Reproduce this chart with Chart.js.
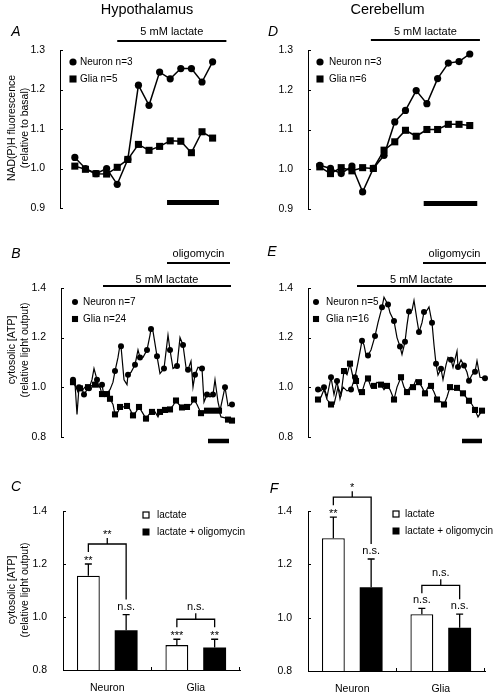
<!DOCTYPE html>
<html><head><meta charset="utf-8">
<script src="https://cdn.jsdelivr.net/npm/chart.js@4.4.1/dist/chart.umd.min.js"></script>
<style>
html,body{margin:0;padding:0;background:#fff;}
#fig{position:relative;width:497px;height:694px;background:#fff;overflow:hidden;}
#fig canvas{position:absolute;}
</style></head>
<body><div id="fig">
<canvas id="pA" width="248" height="225" style="left:0;top:0"></canvas>
<canvas id="pD" width="249" height="225" style="left:248px;top:0"></canvas>
<canvas id="pB" width="248" height="225" style="left:0;top:225px"></canvas>
<canvas id="pE" width="249" height="225" style="left:248px;top:225px"></canvas>
<canvas id="pC" width="248" height="244" style="left:0;top:450px"></canvas>
<canvas id="pF" width="249" height="244" style="left:248px;top:450px"></canvas>
</div>
<script>
// ================= DATA =================
// Tick labels
const nadTicks = [0.9, 1.0, 1.1, 1.2, 1.3];
const atpTicks = [0.8, 1.0, 1.2, 1.4];

// Panel A - Hypothalamus NAD(P)H (sample number vs relative fluorescence)
const hypoNadTime = [1,2,3,4,5,6,7,8,9,10,11,12,13,14];
const hypoNadNeuron = [1.028,1.0,0.987,1.0,0.96,1.023,1.211,1.16,1.244,1.227,1.253,1.253,1.219,1.27];
const hypoNadGlia = [1.006,0.998,0.987,0.986,1.003,1.023,1.061,1.046,1.056,1.07,1.069,1.04,1.093,1.077];
const hypoNadLegend = ['Neuron n=3', 'Glia n=5'];
const hypoNadLactate = [5, 15.3];
const hypoNadBar = [9.7, 14.6];

// Panel D - Cerebellum NAD(P)H
const cereNadTime = [1,2,3,4,5,6,7,8,9,10,11,12,13,14,15];
const cereNadNeuron = [1.01,1.002,0.989,1.008,0.943,1.002,1.035,1.119,1.148,1.198,1.165,1.228,1.267,1.271,1.29];
const cereNadGlia = [1.006,0.989,1.004,0.996,1.004,1.002,1.048,1.069,1.098,1.083,1.1,1.1,1.113,1.113,1.11];
const cereNadLegend = ['Neuron n=3', 'Glia n=6'];
const cereNadLactate = [5.77, 15.95];
const cereNadBar = [10.7, 15.7];

// Panel B - Hypothalamus cytosolic ATP (time vs relative light output)
const hypoAtpNeuronTime = [12,14,16,18,21,23,26,28,31,33,36,38,41,43,46,49,52,54,57,59,60,63,66,67,70,74,77,79,82,86,89,90,92,96,99,103,107,109,112,116,119,122,125,127,130,132,134,137,141,143,146,149,152,154,157,159,164,167,171];
const hypoAtpNeuron = [1.03,1.015,0.89,1.0,0.995,0.97,0.99,0.995,1.03,1.075,1.03,1.0,1.01,0.965,0.975,0.99,1.02,1.065,1.12,1.17,1.165,1.03,1.01,1.05,1.06,1.09,1.15,1.12,1.12,1.15,1.21,1.235,1.225,1.125,1.055,1.075,1.21,1.15,1.075,1.085,1.2,1.17,1.08,1.07,1.105,1.0,1.05,1.08,1.075,0.94,0.97,0.96,0.97,1.03,0.94,0.905,1.0,0.925,0.93];
const hypoAtpNeuronSymbols = [12,18,23,28,36,41,54,60,67,74,79,86,90,96,103,109,116,122,127,134,141,146,152,164,171];
const hypoAtpGliaTime = [12,15,17,19,22,24,27,30,34,37,39,41,44,46,49,52,54,57,59,63,66,69,72,75,78,81,85,88,91,94,97,99,104,109,112,115,118,121,126,130,133,136,140,143,146,149,152,155,158,160,162,165,167,169,171];
const hypoAtpGlia = [1.02,1.0,0.98,0.995,0.99,1.0,1.0,1.005,1.01,1.005,1.0,0.972,0.975,0.972,0.953,0.93,0.89,0.9,0.92,0.92,0.924,0.91,0.886,0.9,0.92,0.9,0.873,0.89,0.9,0.9,0.88,0.9,0.908,0.91,0.925,0.946,0.93,0.918,0.92,0.93,0.95,0.93,0.895,0.9,0.905,0.9,0.905,0.9,0.905,0.88,0.878,0.875,0.869,0.865,0.865];
const hypoAtpGliaSymbols = [12,19,27,34,41,46,49,54,59,66,72,78,85,91,99,104,109,115,121,126,133,140,146,152,158,167,171];
const hypoAtpLegend = ['Neuron n=7', 'Glia n=24'];
const hypoAtpLactate = [42, 170];
const hypoAtpOligo = [106, 169];
const hypoAtpBar = [147, 168];

// Panel E - Cerebellum cytosolic ATP
const cereAtpNeuronTime = [10,13,16,19,23,26,29,32,35,39,43,47,50,54,56,58,60,63,67,70,74,76,80,82,86,89,92,94,97,99,101,104,106,109,111,114,116,119,121,124,126,128,130,133,135,138,140,143,145,149,150,153,156,159,161,164,167,169,172,177];
const cereAtpNeuron = [0.99,0.985,1.0,0.96,1.04,0.97,1.025,0.953,1.0,0.985,0.99,1.04,1.1,1.187,1.17,1.13,1.128,1.15,1.206,1.26,1.322,1.363,1.333,1.3,1.267,1.2,1.164,1.132,1.183,1.25,1.305,1.31,1.35,1.27,1.222,1.26,1.303,1.31,1.324,1.26,1.17,1.094,1.049,1.074,1.03,1.09,1.12,1.11,1.08,1.145,1.081,1.11,1.087,1.06,1.026,1.05,1.062,1.106,1.04,1.036];
const cereAtpNeuronSymbols = [10,16,23,29,43,47,54,60,67,74,80,86,92,97,101,111,116,124,128,133,143,150,156,161,167,177];
const cereAtpGliaTime = [10,13,16,19,23,26,30,33,36,39,42,45,48,51,54,57,60,63,66,69,73,76,79,82,86,89,93,96,99,102,105,108,111,114,117,120,123,126,129,133,136,139,142,145,149,152,155,158,161,164,167,170,174];
const cereAtpGlia = [0.95,0.96,0.99,0.95,0.93,0.93,1.0,0.97,1.065,1.05,1.095,1.04,1.025,0.98,0.98,1.02,1.035,1.0,1.005,1.02,1.01,0.99,1.005,0.99,0.95,1.0,1.04,1.0,0.98,1.0,1.0,1.03,1.02,1.0,0.975,1.0,1.005,0.98,0.95,0.94,0.93,0.96,1.0,0.99,0.997,0.985,0.975,0.96,0.945,0.93,0.908,0.88,0.905];
const cereAtpGliaSymbols = [10,23,36,42,48,54,60,66,73,79,86,93,99,105,111,117,123,129,136,142,149,155,161,167,174];
const cereAtpLegend = ['Neuron n=5', 'Glia n=16'];
const cereAtpLactate = [49, 178];
const cereAtpOligo = [115, 178];
const cereAtpBar = [154, 174];

// Panels C / F - bar summaries
const cellTypes = ['Neuron', 'Glia'];
const barLegend = ['lactate', 'lactate + oligomycin'];
const hypoLactateMean = [1.156, 0.894];
const hypoLactateSem = [0.044, 0.022];
const hypoOligoMean = [0.95, 0.885];
const hypoOligoSem = [0.059, 0.031];
const hypoSigLactate = ['**', '***'];
const hypoSigOligo = ['n.s.', '**'];
const hypoSigBetween = ['**', 'n.s.'];
const cereLactateMean = [1.298, 1.013];
const cereLactateSem = [0.079, 0.022];
const cereOligoMean = [1.114, 0.962];
const cereOligoSem = [0.106, 0.051];
const cereSigLactate = ['**', 'n.s.'];
const cereSigOligo = ['n.s.', 'n.s.'];
const cereSigBetween = ['*', 'n.s.'];

// ================= HELPERS =================
const FONT = '"Liberation Sans", Arial, Helvetica, sans-serif';
const BLACK = '#000';
function fnt(size, style) { return (style ? style + ' ' : '') + size + 'px ' + FONT; }
function drawText(ctx, s, x, y, o) {
  o = o || {};
  ctx.save();
  ctx.font = fnt(o.size || 11, o.style);
  ctx.fillStyle = BLACK;
  ctx.textAlign = o.align || 'left';
  ctx.textBaseline = o.baseline || 'middle';
  if (o.rotate) { ctx.translate(x, y); ctx.rotate(-Math.PI / 2); ctx.fillText(s, 0, 0); }
  else ctx.fillText(s, x, y);
  ctx.restore();
}
function drawMarker(ctx, style, x, y, r) {
  ctx.save(); ctx.fillStyle = BLACK;
  if (style === 'circle') { ctx.beginPath(); ctx.arc(x, y, r, 0, Math.PI * 2); ctx.fill(); }
  else { const h = r * Math.SQRT1_2; ctx.fillRect(x - h, y - h, 2 * h, 2 * h); }
  ctx.restore();
}
function drawCommon(ctx, s) {
  if (s.letter) drawText(ctx, s.letter.text, s.letter.x, s.letter.y, {size: 14, style: 'italic', align: 'center'});
  if (s.title) drawText(ctx, s.title.text, s.title.x, s.title.y, {size: 14.5, align: 'center'});
  if (s.ytitle) s.ytitle.lines.forEach((ln, i) => drawText(ctx, ln, s.ytitle.x[i], s.ytitle.y, {size: s.ytitle.size, align: 'center', rotate: true}));
}
function yScaleOpts(range, ticks, width, pad) {
  return {
    min: range[0], max: range[1],
    afterBuildTicks: sc => { sc.ticks = ticks.map(v => ({value: v})); },
    afterFit: sc => { sc.width = width; },
    grid: {display: false},
    border: {display: true, color: BLACK, width: 1},
    ticks: {color: BLACK, font: {family: FONT, size: 10.5}, padding: pad, callback: v => Number(v).toFixed(1)}
  };
}
function inwardYTicks(ctx, a, y) {
  ctx.save(); ctx.strokeStyle = BLACK; ctx.lineWidth = 1;
  y.ticks.forEach(t => {
    const py = Math.round(y.getPixelForValue(t.value)) + 0.5;
    ctx.beginPath(); ctx.moveTo(a.left, py); ctx.lineTo(a.left + 3, py); ctx.stroke();
  });
  ctx.restore();
}

// ================= LINE PANELS =================
function lineChart(id, s) {
  const datasets = s.series.map(se => ({
    label: se.label,
    data: se.t.map((t, i) => ({x: t, y: se.v[i]})),
    borderColor: BLACK, backgroundColor: BLACK, borderWidth: s.lw,
    pointStyle: se.style, pointBackgroundColor: BLACK, pointBorderColor: BLACK, pointBorderWidth: 0,
    pointRadius: se.symbols ? (c => (c.raw && se.symbols.includes(c.raw.x)) ? se.r : 0) : se.r,
    pointHoverRadius: 0, tension: 0, clip: false
  }));
  const extras = {
    id: 'extras' + id,
    afterDraw(chart) {
      const ctx = chart.ctx, a = chart.chartArea, x = chart.scales.x, y = chart.scales.y;
      inwardYTicks(ctx, a, y);
      s.bars.forEach(b => {
        const x1 = x.getPixelForValue(b.range[0]), x2 = x.getPixelForValue(b.range[1]);
        ctx.save(); ctx.fillStyle = BLACK; ctx.fillRect(x1, b.y - b.h / 2, x2 - x1, b.h); ctx.restore();
        if (b.label) drawText(ctx, b.label, (x1 + x2) / 2, b.y - b.h / 2 - b.gap, {size: 11, align: 'center', baseline: 'alphabetic'});
      });
      s.series.forEach((se, i) => {
        const lx = a.left + s.legend.dx, ly = a.top + s.legend.dy + i * s.legend.step;
        drawMarker(ctx, se.style, lx, ly, se.r);
        drawText(ctx, se.label, lx + s.legend.tx, ly, {size: 10});
      });
      drawCommon(ctx, s);
    }
  };
  return new Chart(document.getElementById(id), {
    type: 'line',
    data: {datasets},
    options: {
      responsive: false, animation: false, devicePixelRatio: 1, events: [],
      layout: {padding: s.pad},
      plugins: {legend: {display: false}, tooltip: {enabled: false}},
      scales: {
        x: {type: 'linear', display: false, min: s.xr[0], max: s.xr[1]},
        y: yScaleOpts(s.yr, s.ticks, s.yw, 7)
      }
    },
    plugins: [extras]
  });
}

lineChart('pA', {
  pad: {left: 0, right: 19.5, top: 50, bottom: 17}, yw: 60,
  xr: [-0.4, 15.5], yr: [0.9, 1.3], ticks: nadTicks, lw: 1.5,
  series: [
    {label: hypoNadLegend[0], t: hypoNadTime, v: hypoNadNeuron, style: 'circle', r: 3.6},
    {label: hypoNadLegend[1], t: hypoNadTime, v: hypoNadGlia, style: 'rect', r: 5}
  ],
  legend: {dx: 13, dy: 12, step: 17, tx: 7},
  bars: [
    {range: hypoNadLactate, y: 41, h: 2, label: '5 mM lactate', gap: 5},
    {range: hypoNadBar, y: 202.5, h: 5}
  ],
  letter: {text: 'A', x: 16, y: 32},
  title: {text: 'Hypothalamus', x: 147, y: 10},
  ytitle: {lines: ['NAD(P)H fluorescence', '(relative to basal)'], x: [12, 25], y: 128, size: 10.5}
});

lineChart('pD', {
  pad: {left: 0, right: 16, top: 50, bottom: 16}, yw: 60,
  xr: [-0.1, 16.05], yr: [0.9, 1.3], ticks: nadTicks, lw: 1.5,
  series: [
    {label: cereNadLegend[0], t: cereNadTime, v: cereNadNeuron, style: 'circle', r: 3.6},
    {label: cereNadLegend[1], t: cereNadTime, v: cereNadGlia, style: 'rect', r: 5}
  ],
  legend: {dx: 12, dy: 12, step: 17, tx: 9},
  bars: [
    {range: cereNadLactate, y: 40, h: 2, label: '5 mM lactate', gap: 4},
    {range: cereNadBar, y: 203.5, h: 5}
  ],
  letter: {text: 'D', x: 25, y: 32},
  title: {text: 'Cerebellum', x: 139.5, y: 10}
});

lineChart('pB', {
  pad: {left: 0, right: 12, top: 63, bottom: 7}, yw: 61,
  xr: [0, 175], yr: [0.8, 1.4], ticks: atpTicks, lw: 1.2,
  series: [
    {label: hypoAtpLegend[0], t: hypoAtpNeuronTime, v: hypoAtpNeuron, symbols: hypoAtpNeuronSymbols, style: 'circle', r: 3},
    {label: hypoAtpLegend[1], t: hypoAtpGliaTime, v: hypoAtpGlia, symbols: hypoAtpGliaSymbols, style: 'rect', r: 4.3}
  ],
  legend: {dx: 14, dy: 14, step: 17, tx: 8},
  bars: [
    {range: hypoAtpOligo, y: 38, h: 2, label: 'oligomycin', gap: 5},
    {range: hypoAtpLactate, y: 61, h: 2, label: '5 mM lactate', gap: 2},
    {range: hypoAtpBar, y: 216, h: 4.5}
  ],
  letter: {text: 'B', x: 16, y: 29},
  ytitle: {lines: ['cytosolic [ATP]', '(relative light output)'], x: [12, 25], y: 125, size: 10.5}
});

lineChart('pE', {
  pad: {left: 0, right: 9, top: 63, bottom: 7}, yw: 60,
  xr: [0, 180], yr: [0.8, 1.4], ticks: atpTicks, lw: 1.2,
  series: [
    {label: cereAtpLegend[0], t: cereAtpNeuronTime, v: cereAtpNeuron, symbols: cereAtpNeuronSymbols, style: 'circle', r: 3},
    {label: cereAtpLegend[1], t: cereAtpGliaTime, v: cereAtpGlia, symbols: cereAtpGliaSymbols, style: 'rect', r: 4.3}
  ],
  legend: {dx: 8, dy: 14, step: 17, tx: 10},
  bars: [
    {range: cereAtpOligo, y: 38, h: 2, label: 'oligomycin', gap: 5},
    {range: cereAtpLactate, y: 61, h: 2, label: '5 mM lactate', gap: 2},
    {range: cereAtpBar, y: 216, h: 4.5}
  ],
  letter: {text: 'E', x: 24, y: 27.5}
});

// ================= BAR PANELS =================
function barChart(id, s) {
  const extras = {
    id: 'extras' + id,
    afterDraw(chart) {
      const ctx = chart.ctx, a = chart.chartArea, y = chart.scales.y;
      inwardYTicks(ctx, a, y);
      // inward ticks at category boundaries on the x axis
      ctx.save(); ctx.strokeStyle = BLACK; ctx.lineWidth = 1;
      [a.left + (a.right - a.left) / 2, a.right].forEach(px => {
        const xx = Math.round(px) - 0.5;
        ctx.beginPath(); ctx.moveTo(xx, a.bottom); ctx.lineTo(xx, a.bottom - 3); ctx.stroke();
      });
      ctx.restore();
      // error bars + significance labels
      const errs = [s.lactSem, s.oligoSem], sigs = [s.sigLact, s.sigOligo];
      const tops = [[], []], cx = [[], []];
      [0, 1].forEach(di => {
        const meta = chart.getDatasetMeta(di);
        meta.data.forEach((el, j) => {
          const val = chart.data.datasets[di].data[j];
          const ey = y.getPixelForValue(val + errs[di][j]);
          ctx.save(); ctx.strokeStyle = BLACK; ctx.lineWidth = 1.3;
          ctx.beginPath(); ctx.moveTo(el.x, el.y); ctx.lineTo(el.x, ey);
          ctx.moveTo(el.x - 3.5, ey); ctx.lineTo(el.x + 3.5, ey); ctx.stroke(); ctx.restore();
          const lab = sigs[di][j], star = lab.indexOf('*') >= 0;
          const base = ey - (star ? 0 : 5);
          drawText(ctx, lab, el.x, base, {size: 11, align: 'center', baseline: 'alphabetic'});
          tops[di][j] = base - (star ? 8 : 6);
          cx[di][j] = el.x;
        });
      });
      // brackets between treatments
      s.between.forEach((lab, j) => {
        const lt = tops[0][j], rt = tops[1][j];
        const by = Math.min(lt, rt) - 12;
        const x1 = cx[0][j], x2 = cx[1][j], xm = (x1 + x2) / 2;
        ctx.save(); ctx.strokeStyle = BLACK; ctx.lineWidth = 1.3;
        ctx.beginPath();
        ctx.moveTo(x1, lt - 4); ctx.lineTo(x1, by); ctx.lineTo(x2, by); ctx.lineTo(x2, rt - 4);
        ctx.moveTo(xm, by); ctx.lineTo(xm, by - 6);
        ctx.stroke(); ctx.restore();
        const star = lab.indexOf('*') >= 0;
        drawText(ctx, lab, xm, by - 6 - (star ? 0 : 3), {size: 11, align: 'center', baseline: 'alphabetic'});
      });
      // legend
      ctx.save();
      ctx.fillStyle = '#fff'; ctx.strokeStyle = BLACK; ctx.lineWidth = 1.2;
      ctx.fillRect(s.legend.x - 3.5, s.legend.y - 3.5, 7, 7);
      ctx.strokeRect(s.legend.x - 3, s.legend.y - 3, 6, 6);
      ctx.fillStyle = BLACK;
      ctx.fillRect(s.legend.x - 3.5, s.legend.y + s.legend.step - 3.5, 7, 7);
      ctx.restore();
      barLegend.forEach((t, i) => drawText(ctx, t, s.legend.x + s.legend.tx, s.legend.y + i * s.legend.step, {size: 10}));
      drawCommon(ctx, s);
    }
  };
  return new Chart(document.getElementById(id), {
    type: 'bar',
    data: {
      labels: cellTypes,
      datasets: [
        {label: barLegend[0], data: s.lact, backgroundColor: '#fff', borderColor: BLACK, borderWidth: 1.3,
         categoryPercentage: 0.854, barPercentage: 0.605},
        {label: barLegend[1], data: s.oligo, backgroundColor: BLACK, borderColor: BLACK, borderWidth: 0,
         categoryPercentage: 0.854, barPercentage: 0.605}
      ]
    },
    options: {
      responsive: false, animation: false, devicePixelRatio: 1, events: [],
      layout: {padding: s.pad},
      plugins: {legend: {display: false}, tooltip: {enabled: false}},
      scales: {
        x: {
          grid: {display: false},
          border: {display: true, color: BLACK, width: 1},
          afterFit: sc => { sc.height = s.xh; },
          ticks: {color: BLACK, font: {family: FONT, size: 10.5}, padding: 4}
        },
        y: yScaleOpts([0.8, 1.4], atpTicks, s.yw, 8)
      }
    },
    plugins: [extras]
  });
}

barChart('pC', {
  pad: {left: 0, right: 8, top: 61, bottom: 0}, yw: 63, xh: 24,
  lact: hypoLactateMean, lactSem: hypoLactateSem, oligo: hypoOligoMean, oligoSem: hypoOligoSem,
  sigLact: hypoSigLactate, sigOligo: hypoSigOligo, between: hypoSigBetween,
  legend: {x: 146, y: 65, step: 17, tx: 11},
  letter: {text: 'C', x: 16, y: 37},
  ytitle: {lines: ['cytosolic [ATP]', '(relative light output)'], x: [12, 25], y: 140, size: 10.5}
});

barChart('pF', {
  pad: {left: 0, right: 12, top: 61, bottom: 0}, yw: 60, xh: 23,
  lact: cereLactateMean, lactSem: cereLactateSem, oligo: cereOligoMean, oligoSem: cereOligoSem,
  sigLact: cereSigLactate, sigOligo: cereSigOligo, between: cereSigBetween,
  legend: {x: 148, y: 64, step: 17, tx: 9},
  letter: {text: 'F', x: 26, y: 39}
});
</script>
</body></html>
